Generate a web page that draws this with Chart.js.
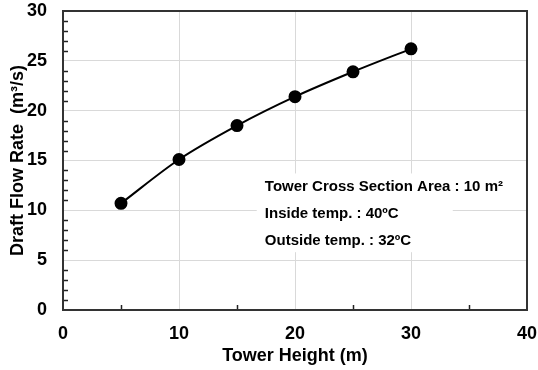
<!DOCTYPE html>
<html>
<head>
<meta charset="utf-8">
<script src="https://cdn.jsdelivr.net/npm/chart.js@4.4.1/dist/chart.umd.min.js"></script>
<style>
  html, body { margin: 0; padding: 0; background: #fff; }
  #wrap { width: 538px; height: 370px; }
</style>
</head>
<body>
<div id="wrap"><canvas id="flow-chart" width="538" height="370"></canvas></div>
<script>
// tower heights (m) and draft flow (m3/s)
var towerHeight = [5, 10, 15, 20, 25, 30];
var draftFlow = [10.7, 15.1, 18.5, 21.4, 23.9, 26.2];
var xTicks = [0, 10, 20, 30, 40];
var yTicks = [0, 5, 10, 15, 20, 25, 30];
var xMinorTicks = [5, 15, 25, 35];
var yMinorStep = 1;
var notes = ["Tower Cross Section Area : 10 m\u00b2", "Inside temp. : 40\u00baC", "Outside temp. : 32\u00baC"];

var FONT = "'Liberation Sans', Arial, sans-serif";

var points = towerHeight.map(function(h, i) { return { x: h, y: draftFlow[i] }; });

// frame round the plot + small inward ticks
var framePlugin = {
  id: 'frame',
  afterDraw: function(chart) {
    var ctx = chart.ctx, a = chart.chartArea;
    var xs = chart.scales.x, ys = chart.scales.y;
    ctx.save();
    ctx.strokeStyle = '#222';
    ctx.lineWidth = 1.5;
    xMinorTicks.forEach(function(v) {
      var px = Math.round(xs.getPixelForValue(v)) + 0.5;
      ctx.beginPath();
      ctx.moveTo(px, a.bottom);
      ctx.lineTo(px, a.bottom - 5);
      ctx.stroke();
    });
    for (var v = 0; v <= 30; v += yMinorStep) {
      if (v % 5 === 0) continue;
      var py = Math.round(ys.getPixelForValue(v)) + 0.5;
      ctx.beginPath();
      ctx.moveTo(a.left, py);
      ctx.lineTo(a.left + 5, py);
      ctx.stroke();
    }
    ctx.strokeStyle = '#333';
    ctx.lineWidth = 2;
    ctx.strokeRect(a.left, a.top, a.right - a.left, a.bottom - a.top);
    ctx.restore();
  }
};

// condition text in a white box
var notePlugin = {
  id: 'notes',
  afterDatasetsDraw: function(chart) {
    var ctx = chart.ctx;
    var xs = chart.scales.x, ys = chart.scales.y;
    var left = xs.getPixelForValue(17.4);
    var top = ys.getPixelForValue(13.0);
    ctx.save();
    ctx.fillStyle = '#fff';
    ctx.fillRect(xs.getPixelForValue(16.7), ys.getPixelForValue(13.7),
      xs.getPixelForValue(33.6) - xs.getPixelForValue(16.7),
      ys.getPixelForValue(5.8) - ys.getPixelForValue(13.7));
    ctx.fillStyle = '#000';
    ctx.font = 'bold 15px ' + FONT;
    ctx.textBaseline = 'alphabetic';
    notes.forEach(function(t, i) {
      ctx.fillText(t, left, top + 11 + i * 27);
    });
    ctx.restore();
  }
};

var ctx = document.getElementById('flow-chart').getContext('2d');
new Chart(ctx, {
  type: 'line',
  data: {
    datasets: [{
      data: points,
      borderColor: '#000',
      backgroundColor: '#000',
      borderWidth: 2,
      pointRadius: 5.5,
      pointHoverRadius: 5.5,
      cubicInterpolationMode: 'monotone',
      fill: false
    }]
  },
  options: {
    responsive: false,
    animation: false,
    events: [],
    layout: { padding: { top: 11, right: 11, left: 0, bottom: 0 } },
    plugins: { legend: { display: false }, tooltip: { enabled: false } },
    scales: {
      x: {
        type: 'linear',
        min: 0, max: 40,
        afterBuildTicks: function(s) { s.ticks = xTicks.map(function(v) { return { value: v }; }); },
        afterFit: function(s) { s.height = 60; s.paddingLeft = 0; s.paddingRight = 0; },
        grid: { color: '#d9d9d9', lineWidth: 1, drawTicks: false },
        border: { display: false },
        ticks: { color: '#000', padding: 13, font: { family: FONT, size: 18, weight: 'bold' } },
        title: { display: true, text: 'Tower Height (m)', color: '#000', padding: { top: 0, bottom: 3 },
          font: { family: FONT, size: 18, weight: 'bold' } }
      },
      y: {
        min: 0, max: 30,
        afterBuildTicks: function(s) { s.ticks = yTicks.map(function(v) { return { value: v }; }); },
        afterFit: function(s) { s.width = 63; s.paddingTop = 0; s.paddingBottom = 0; },
        grid: { color: '#d9d9d9', lineWidth: 1, drawTicks: false },
        border: { display: false },
        ticks: { color: '#000', padding: 16, font: { family: FONT, size: 18, weight: 'bold' } },
        title: { display: true, text: 'Draft Flow Rate  (m\u00b3/s)', color: '#000', padding: { top: 7, bottom: 0 },
          font: { family: FONT, size: 18, weight: 'bold' } }
      }
    }
  },
  plugins: [notePlugin, framePlugin]
});
</script>
</body>
</html>
